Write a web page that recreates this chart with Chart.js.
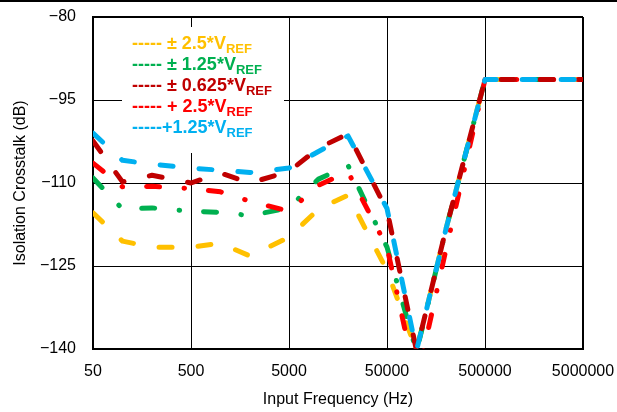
<!DOCTYPE html>
<html>
<head>
<meta charset="utf-8">
<script src="https://cdn.jsdelivr.net/npm/chart.js@4/dist/chart.umd.min.js"></script>
<style>
  html, body { margin: 0; padding: 0; background: #fff; }
</style>
</head>
<body>
<canvas id="crosstalkChart" width="617" height="412"></canvas>
<script>
// input frequency (Hz)
const freqs = [50, 100, 200, 500, 1000, 2000, 5000, 10000, 20000, 50000, 100000, 200000, 500000, 1000000, 2000000, 5000000];

// isolation crosstalk (dB), one array per input range
const bip25 = [-115.4, -120.5, -121.6, -121.6, -120.9, -123.2, -119.8, -114.7, -112.2, -125.8, -140.3, -118.3, -91.3, -91.3, -91.3, -91.3];
const bip125 = [-109.1, -114.7, -114.5, -115.1, -115.3, -115.9, -114.5, -109.3, -106.8, -121.6, -140.5, -118.3, -91.3, -91.3, -91.3, -91.3];
const bip0625 = [-102.4, -109.8, -108.6, -110.0, -108.2, -110.0, -107.9, -103.7, -101.1, -114.9, -140.3, -118.3, -91.3, -91.3, -91.3, -91.3];
const uni25 = [-106.4, -110.7, -110.6, -111.0, -111.6, -113.3, -115.1, -110.4, -108.0, -121.6, -146.0, -122.0, -91.3, -91.3, -91.3, -91.3];
const uni125 = [-101.0, -105.9, -106.6, -107.3, -107.7, -108.1, -107.3, -104.3, -101.5, -114.6, -140.3, -118.3, -91.3, -91.3, -91.3, -91.3];

const seriesNames = ['----- \u00b1 2.5*V', '----- \u00b1 1.25*V', '----- \u00b1 0.625*V', '----- + 2.5*V', '-----+1.25*V'];
const seriesColors = ['#FFC000', '#00B050', '#C00000', '#FF0000', '#00B0F0'];

const xTicks = [50, 500, 5000, 50000, 500000, 5000000];
const yTicks = [-140, -125, -110, -95, -80];

const FONT = '"Liberation Sans", Arial, sans-serif';
const longDash = [13, 26];
const dashDot = [13, 24.5, 0.5, 24];

function makeSet(idx, values, dash) {
  return {
    label: seriesNames[idx] + 'REF',
    data: freqs.map((f, i) => ({ x: f, y: values[i] })),
    borderColor: seriesColors[idx],
    backgroundColor: seriesColors[idx],
    borderWidth: 5,
    borderDash: dash,
    borderCapStyle: 'round',
    borderJoinStyle: 'round',
    pointRadius: 0,
    tension: 0,
    fill: false
  };
}

// dataset 0 is drawn on top
const datasets = [
  makeSet(4, uni125, longDash),
  makeSet(2, bip0625, longDash),
  makeSet(3, uni25, dashDot),
  makeSet(1, bip125, dashDot),
  makeSet(0, bip25, longDash)
];

const refLegend = {
  id: 'refLegend',
  beforeDatasetsDraw(chart) {
    const { ctx, chartArea } = chart;
    ctx.save();
    ctx.fillStyle = '#fff';
    ctx.fillRect(chartArea.left + 29, chartArea.top + 10, 162, 126);
    ctx.restore();
  },
  afterDraw(chart) {
    const { ctx, chartArea } = chart;
    ctx.save();
    ctx.textBaseline = 'alphabetic';
    seriesNames.forEach((name, i) => {
      const y = chartArea.top + 32 + i * 21;
      let x = chartArea.left + 39;
      ctx.fillStyle = seriesColors[i];
      ctx.font = 'bold 18px ' + FONT;
      ctx.fillText(name, x, y);
      x += ctx.measureText(name).width;
      ctx.font = 'bold 13px ' + FONT;
      ctx.fillText('REF', x, y + 4);
    });
    // rule across the top of the page
    ctx.fillStyle = '#000';
    ctx.fillRect(0, 0, chart.width, 2);
    ctx.restore();
  }
};

new Chart(document.getElementById('crosstalkChart').getContext('2d'), {
  type: 'line',
  data: { datasets },
  options: {
    responsive: false,
    animation: false,
    devicePixelRatio: 1,
    layout: { padding: { left: 0, right: 34, top: 17, bottom: 0 } },
    plugins: {
      legend: { display: false },
      tooltip: { enabled: false }
    },
    scales: {
      x: {
        type: 'logarithmic',
        min: 50,
        max: 5000000,
        afterBuildTicks: s => { s.ticks = xTicks.map(v => ({ value: v })); },
        afterFit: s => {
          s.height = 63;
          s.paddingLeft = 0;
          s.paddingRight = 0;
        },
        ticks: {
          callback: v => String(v),
          color: '#000',
          font: { family: FONT, size: 16 },
          padding: 13,
          maxRotation: 0,
          autoSkip: false
        },
        grid: {
          color: '#000',
          lineWidth: c => (c.tick && c.tick.value === 5000000 ? 2 : 1),
          drawTicks: false
        },
        border: { color: '#000', width: 2 },
        title: {
          display: true,
          text: 'Input Frequency (Hz)',
          color: '#000',
          font: { family: FONT, size: 16 },
          padding: { top: 0, bottom: 3 }
        }
      },
      y: {
        min: -140,
        max: -80,
        afterBuildTicks: s => { s.ticks = yTicks.map(v => ({ value: v })); },
        afterFit: s => {
          s.width = 93;
          s.paddingTop = 0;
          s.paddingBottom = 0;
        },
        ticks: {
          callback: v => String(v).replace('-', '\u2212'),
          color: '#000',
          font: { family: FONT, size: 16 },
          padding: 17
        },
        grid: {
          color: '#000',
          lineWidth: c => (c.tick && c.tick.value === -80 ? 2 : 1),
          drawTicks: false
        },
        border: { color: '#000', width: 2 },
        title: {
          display: true,
          text: 'Isolation Crosstalk (dB)',
          color: '#000',
          font: { family: FONT, size: 16 },
          padding: { top: 11, bottom: 0 }
        }
      }
    }
  },
  plugins: [refLegend]
});
</script>
</body>
</html>
